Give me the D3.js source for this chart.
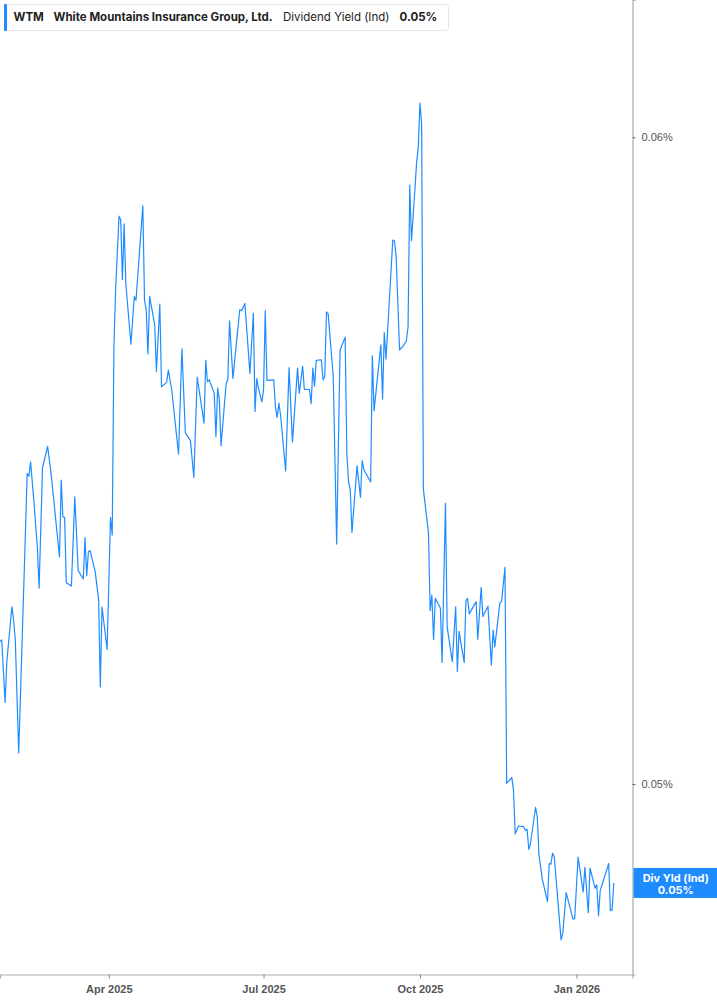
<!DOCTYPE html>
<html>
<head>
<meta charset="utf-8">
<script src="https://cdn.jsdelivr.net/npm/d3@7"></script>
<style>
  body { margin: 0; background: #fff; }
  svg { display: block; font-family: Inter, "Noto Sans", sans-serif; }
</style>
</head>
<body>
<svg id="chart" width="717" height="1005"></svg>
<script>
// WTM dividend yield (Ind), in percent
const dates = [
  "2025-01-27","2025-01-28","2025-01-30","2025-01-31","2025-02-03","2025-02-04","2025-02-05","2025-02-07",
  "2025-02-12","2025-02-13","2025-02-14","2025-02-16","2025-02-18","2025-02-19","2025-02-21","2025-02-24",
  "2025-02-26","2025-02-28","2025-03-03","2025-03-04","2025-03-05","2025-03-06","2025-03-07","2025-03-10",
  "2025-03-12","2025-03-14","2025-03-17","2025-03-18","2025-03-19","2025-03-20","2025-03-21","2025-03-24",
  "2025-03-26","2025-03-27","2025-03-28","2025-03-31","2025-04-02","2025-04-03","2025-04-04","2025-04-05",
  "2025-04-07","2025-04-08","2025-04-09","2025-04-10","2025-04-11","2025-04-14","2025-04-16","2025-04-17",
  "2025-04-21","2025-04-22","2025-04-23","2025-04-24","2025-04-25","2025-04-28","2025-04-29","2025-05-01",
  "2025-05-02","2025-05-05","2025-05-06","2025-05-08","2025-05-12","2025-05-14","2025-05-16","2025-05-19",
  "2025-05-21","2025-05-23","2025-05-27","2025-05-28","2025-05-29","2025-05-30","2025-06-02","2025-06-03",
  "2025-06-04","2025-06-05","2025-06-06","2025-06-09","2025-06-10","2025-06-11","2025-06-13","2025-06-15",
  "2025-06-17","2025-06-18","2025-06-19","2025-06-20","2025-06-23","2025-06-25","2025-06-26","2025-06-27",
  "2025-06-28","2025-06-30","2025-07-01","2025-07-02","2025-07-03","2025-07-07","2025-07-08","2025-07-09",
  "2025-07-10","2025-07-11","2025-07-14","2025-07-16","2025-07-18","2025-07-21","2025-07-22","2025-07-24",
  "2025-07-25","2025-07-28","2025-07-29","2025-07-30","2025-07-31","2025-08-01","2025-08-04","2025-08-05",
  "2025-08-06","2025-08-07","2025-08-08","2025-08-11","2025-08-13","2025-08-15","2025-08-18","2025-08-19",
  "2025-08-20","2025-08-21","2025-08-22","2025-08-25","2025-08-27","2025-08-28","2025-08-29","2025-09-02",
  "2025-09-03","2025-09-04","2025-09-08","2025-09-09","2025-09-10","2025-09-11","2025-09-12","2025-09-15",
  "2025-09-16","2025-09-17","2025-09-19","2025-09-21","2025-09-23","2025-09-24","2025-09-25","2025-09-26",
  "2025-09-28","2025-09-29","2025-09-30","2025-10-01","2025-10-02","2025-10-03","2025-10-06","2025-10-07",
  "2025-10-08","2025-10-09","2025-10-10","2025-10-13","2025-10-14","2025-10-16","2025-10-17","2025-10-20",
  "2025-10-22","2025-10-23","2025-10-24","2025-10-27","2025-10-28","2025-10-29","2025-10-30","2025-11-03",
  "2025-11-04","2025-11-06","2025-11-07","2025-11-10","2025-11-12","2025-11-13","2025-11-14","2025-11-17",
  "2025-11-18","2025-11-20","2025-11-21","2025-11-24","2025-11-25","2025-11-26","2025-11-28","2025-12-01",
  "2025-12-02","2025-12-03","2025-12-04","2025-12-05","2025-12-08","2025-12-09","2025-12-10","2025-12-12",
  "2025-12-15","2025-12-16","2025-12-17","2025-12-18","2025-12-19","2025-12-23","2025-12-24","2025-12-26",
  "2025-12-30","2025-12-31","2026-01-02","2026-01-05","2026-01-06","2026-01-08","2026-01-09","2026-01-12",
  "2026-01-13","2026-01-14","2026-01-15","2026-01-20","2026-01-21","2026-01-22","2026-01-23"
];

const yieldValues = [
  0.05220,0.05223,0.05126,0.05189,0.05274,0.05254,0.05223,0.05048,
  0.05480,0.05476,0.05498,0.05435,0.05365,0.05303,0.05489,0.05522,
  0.05481,0.05429,0.05351,0.05470,0.05413,0.05412,0.05311,0.05306,
  0.05444,0.05330,0.05317,0.05381,0.05322,0.05359,0.05361,0.05328,
  0.05285,0.05150,0.05274,0.05208,0.05412,0.05385,0.05676,0.05764,
  0.05878,0.05872,0.05780,0.05866,0.05774,0.05680,0.05754,0.05748,
  0.05894,0.05748,0.05733,0.05665,0.05754,0.05710,0.05638,0.05742,
  0.05614,0.05621,0.05640,0.05610,0.05510,0.05673,0.05543,0.05531,
  0.05474,0.05629,0.05558,0.05655,0.05622,0.05625,0.05604,0.05537,
  0.05612,0.05594,0.05523,0.05619,0.05625,0.05716,0.05627,0.05681,
  0.05733,0.05732,0.05737,0.05743,0.05635,0.05728,0.05576,0.05627,
  0.05612,0.05591,0.05609,0.05732,0.05624,0.05625,0.05583,0.05567,
  0.05589,0.05571,0.05484,0.05644,0.05529,0.05643,0.05604,0.05646,
  0.05610,0.05610,0.05588,0.05643,0.05615,0.05655,0.05656,0.05625,
  0.05630,0.05730,0.05727,0.05630,0.05371,0.05671,0.05691,0.05511,
  0.05467,0.05455,0.05389,0.05492,0.05443,0.05500,0.05486,0.05467,
  0.05662,0.05577,0.05679,0.05595,0.05698,0.05657,0.05702,0.05841,
  0.05840,0.05815,0.05671,0.05677,0.05685,0.05707,0.05926,0.05840,
  0.05919,0.05960,0.05985,0.06053,0.06019,0.05456,0.05388,0.05268,
  0.05292,0.05223,0.05287,0.05272,0.05188,0.05434,0.05243,0.05189,
  0.05274,0.05174,0.05236,0.05188,0.05283,0.05287,0.05263,0.05282,
  0.05224,0.05304,0.05259,0.05275,0.05184,0.05238,0.05212,0.05280,
  0.05282,0.05335,0.05001,0.05010,0.04991,0.04923,0.04935,0.04934,
  0.04928,0.04930,0.04899,0.04908,0.04964,0.04949,0.04890,0.04852,
  0.04818,0.04877,0.04876,0.04893,0.04887,0.04759,0.04769,0.04832,
  0.04791,0.04792,0.04887,0.04833,0.04871,0.04801,0.04870,0.04839,
  0.04844,0.04796,0.04835,0.04877,0.04804,0.04805,0.04847
];

const yTicks = [0.05, 0.06];
const xTicks = ["2025-04-01", "2025-07-01", "2025-10-01", "2026-01-01"];
const xDomain = ["2025-01-27", "2026-02-03"];
const yDomain = [0.047054, 0.062123];

const ticker = "WTM";
const company = "White Mountains Insurance Group, Ltd.";
const metric = "Dividend Yield (Ind)";
const shortMetric = "Div Yld (Ind)";

const parse = d3.timeParse("%Y-%m-%d");
const data = dates.map((d, i) => ({ date: parse(d), value: yieldValues[i] }));
const last = data[data.length - 1];
const fmt = v => v.toFixed(2) + "%";

const svg = d3.select("#chart");
const plotW = 632.5, plotH = 974.5;
const blue = "#1e8cff";
const axisGray = "#ababab";

const x = d3.scaleTime().domain(xDomain.map(parse)).range([0, plotW]);
const y = d3.scaleLinear().domain(yDomain).range([plotH, 0]);

// line
svg.append("path")
  .datum(data)
  .attr("fill", "none")
  .attr("stroke", blue)
  .attr("stroke-width", 1.2)
  .attr("stroke-linejoin", "round")
  .attr("d", d3.line().x(d => x(d.date)).y(d => y(d.value)));

// bottom axis
const xAxis = svg.append("g")
  .attr("transform", `translate(0,${plotH})`)
  .call(d3.axisBottom(x).tickValues(xTicks.map(parse)).tickFormat(d3.timeFormat("%b %Y")).tickSizeOuter(0).tickSize(4));
xAxis.select(".domain").attr("stroke", axisGray).attr("stroke-width", 1.2);
xAxis.selectAll(".tick line").attr("stroke", "#888");
xAxis.selectAll(".tick text")
  .attr("dy", "1.05em")
  .attr("fill", "#555")
  .attr("font-size", 11)
  .attr("font-weight", 600);

// right axis
const yAxis = svg.append("g")
  .attr("transform", `translate(${plotW},0)`)
  .call(d3.axisRight(y).tickValues(yTicks).tickFormat(fmt).tickSizeOuter(0).tickSize(3));
yAxis.select(".domain").attr("stroke", axisGray).attr("stroke-width", 1.2);
yAxis.selectAll(".tick line").attr("stroke", "#666");
yAxis.selectAll(".tick text")
  .attr("x", 9)
  .attr("fill", "#555")
  .attr("font-size", 11);

// last value badge
const badge = svg.append("g").attr("transform", `translate(${plotW + 1},${y(last.value)})`);
badge.append("rect")
  .attr("x", 0).attr("y", -15)
  .attr("width", 717 - plotW).attr("height", 30)
  .attr("fill", blue);
badge.append("text")
  .attr("x", (717 - plotW) / 2).attr("y", -1)
  .attr("text-anchor", "middle")
  .attr("fill", "#fff").attr("font-size", 11).attr("font-weight", 700)
  .text(shortMetric);
badge.append("text")
  .attr("x", (717 - plotW) / 2).attr("y", 11)
  .attr("text-anchor", "middle")
  .attr("fill", "#fff").attr("font-size", 11).attr("font-weight", 700)
  .text(fmt(last.value));

// legend
const legend = svg.append("g").attr("transform", "translate(4,4)");
legend.append("rect")
  .attr("x", 0.5).attr("y", 0.5)
  .attr("width", 444).attr("height", 26)
  .attr("rx", 3)
  .attr("fill", "#fff")
  .attr("stroke", "#e6e6e6");
legend.append("rect")
  .attr("x", 0).attr("y", 0)
  .attr("width", 3).attr("height", 27)
  .attr("rx", 1)
  .attr("fill", blue);
const items = [
  { t: ticker, x: 9.5, w: 700 },
  { t: company, x: 49.5, w: 700 },
  { t: metric, x: 279, w: 400 },
  { t: fmt(last.value), x: 395.5, w: 700 }
];
legend.selectAll("text.item").data(items).join("text")
  .attr("class", "item")
  .attr("x", d => d.x).attr("y", 17)
  .attr("fill", "#222")
  .attr("font-size", 11.5)
  .attr("font-weight", d => d.w)
  .text(d => d.t);
</script>
</body>
</html>
